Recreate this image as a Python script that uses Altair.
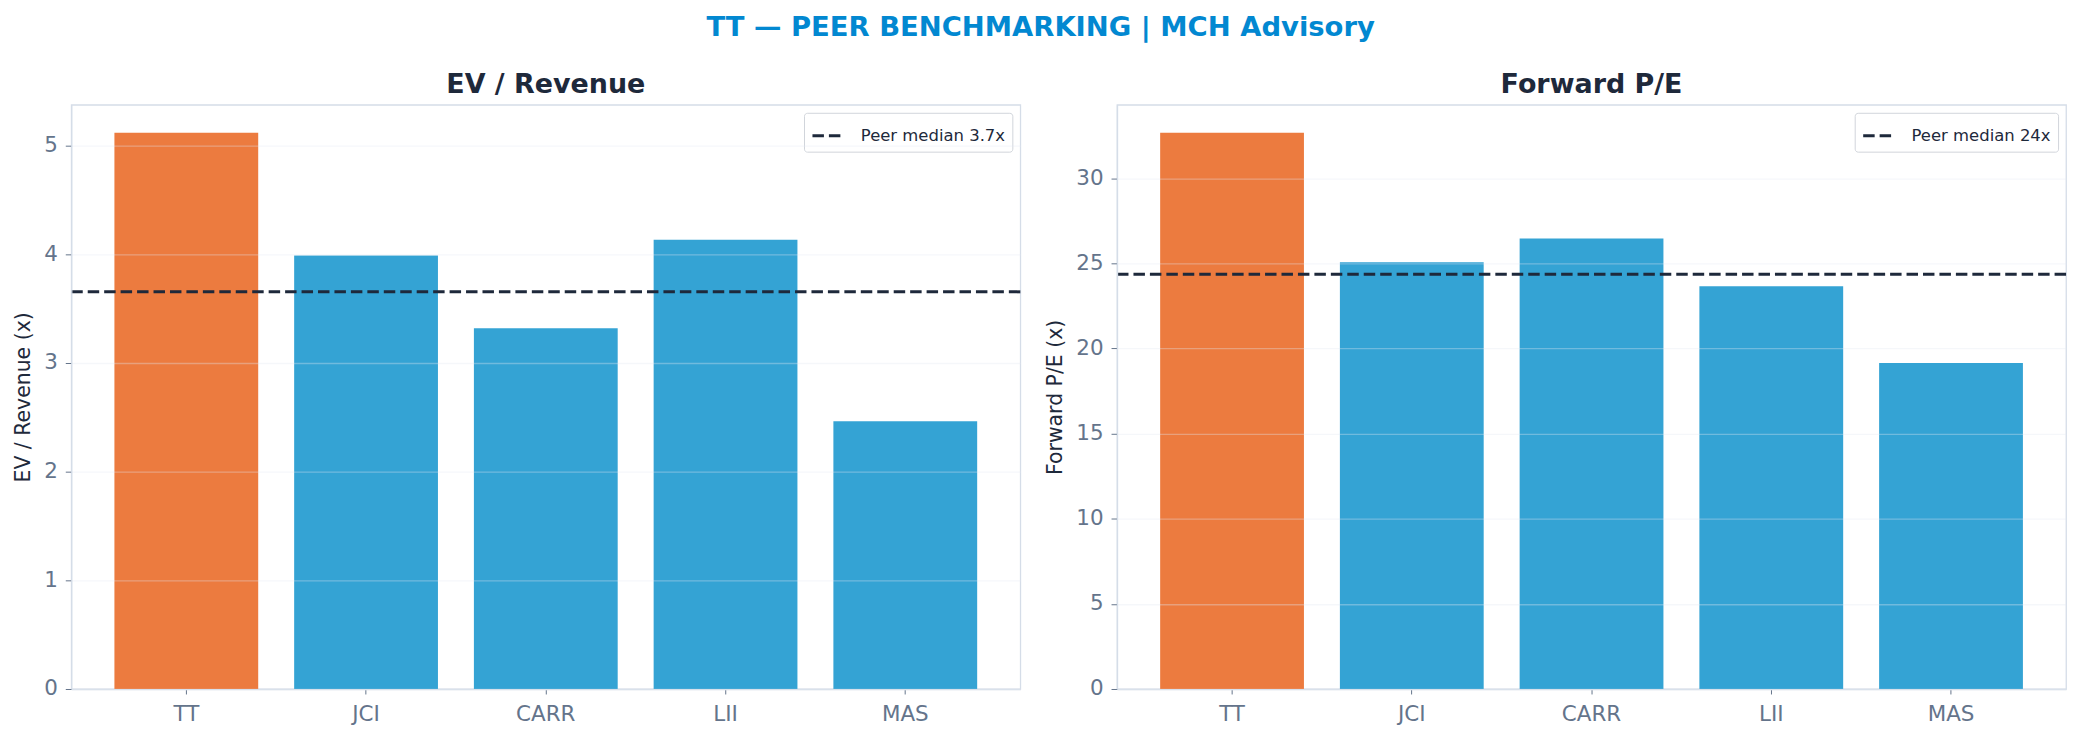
import altair as alt
import pandas as pd

tickers = ["TT", "JCI", "CARR", "LII", "MAS"]
groups = ["TT", "Peer", "Peer", "Peer", "Peer"]
ev_revenue = [5.12, 3.99, 3.32, 4.135, 2.463]
fwd_pe = [32.67, 25.06, 26.46, 23.65, 19.14]
ev_median = 3.655
pe_median = 24.355
ev_median_label = "Peer median 3.7x"
pe_median_label = "Peer median 24x"
ev_ticks = [0, 1, 2, 3, 4, 5]
pe_ticks = [0, 5, 10, 15, 20, 25, 30]

FONT = "DejaVu Sans"
ORANGE = "#EC7B3F"
BLUE = "#34A3D4"
DARK = "#1e293b"
SLATE = "#64748b"
BORDER = "#d5dde8"

df = pd.DataFrame({"ticker": tickers, "group": groups, "ev": ev_revenue, "pe": fwd_pe})


def panel(field, title, ytitle, median, median_label, ticks):
    ymax = max(df[field]) * 1.05
    base = alt.Chart(df)
    bars = base.mark_bar().encode(
        x=alt.X("ticker:N", sort=tickers, title=None,
                scale=alt.Scale(paddingInner=0.2, paddingOuter=0.24),
                axis=alt.Axis(labelAngle=0, labelFontSize=21.5, labelColor=SLATE,
                              tickColor=SLATE, tickSize=5, labelPadding=10,
                              domainColor=BORDER, domainWidth=1.3, grid=False)),
        y=alt.Y(f"{field}:Q", title=ytitle,
                scale=alt.Scale(domain=[0, ymax], nice=False, zero=True),
                axis=alt.Axis(values=ticks, format="~g", labelFontSize=21.5, labelColor=SLATE,
                              tickColor=SLATE, tickSize=6, labelPadding=8,
                              titleFontSize=20.5, titleColor=DARK, titleFontWeight="normal",
                              titlePadding=10, domainColor=BORDER, domainWidth=1.3,
                              grid=True, gridColor="#e2e8f0", gridOpacity=0.35,
                              gridWidth=1.3, zindex=1)),
        color=alt.Color("group:N", scale=alt.Scale(domain=["TT", "Peer"], range=[ORANGE, BLUE]),
                        legend=None),
    )
    med = pd.DataFrame({"v": [median], "label": [median_label]})
    rule = alt.Chart(med).mark_rule(strokeWidth=3, color=DARK).encode(
        y=alt.Y("v:Q"),
        strokeDash=alt.StrokeDash(
            "label:N",
            scale=alt.Scale(domain=[median_label], range=[[11.5, 5]]),
            legend=alt.Legend(title=None, orient="top-right", offset=8,
                              symbolType="stroke", symbolStrokeColor=DARK,
                              symbolStrokeWidth=3, symbolSize=841,
                              labelFontSize=16.5, labelColor=DARK, labelFont=FONT,
                              labelOffset=18, padding=7, fillColor="white",
                              strokeColor="#d1d5db", cornerRadius=3),
        ),
    )
    return alt.layer(bars, rule).properties(
        width=952, height=586,
        title=alt.TitleParams(title, fontSize=27, fontWeight="bold", color=DARK,
                              font=FONT, anchor="middle", offset=-15, baseline="alphabetic"),
    )


left = panel("ev", "EV / Revenue", "EV / Revenue (x)", ev_median, ev_median_label, ev_ticks)
right = panel("pe", "Forward P/E", "Forward P/E (x)", pe_median, pe_median_label, pe_ticks)

chart = alt.hconcat(left, right, spacing=21).resolve_scale(
    strokeDash="independent", color="independent", y="independent", x="independent"
).resolve_legend(strokeDash="independent").properties(
    title=alt.TitleParams("TT — PEER BENCHMARKING | MCH Advisory", fontSize=27.5,
                          fontWeight="bold", color="#0288D1", font=FONT, anchor="middle",
                          offset=7, baseline="alphabetic"),
    padding={"left": 12.5, "right": 14, "top": 12, "bottom": 5},
).configure(font=FONT, background="white").configure_view(
    stroke=BORDER, strokeWidth=1.3
).configure_axis(labelFont=FONT, titleFont=FONT)

chart.save("out.html", embed_options={"renderer": "svg", "actions": False})
